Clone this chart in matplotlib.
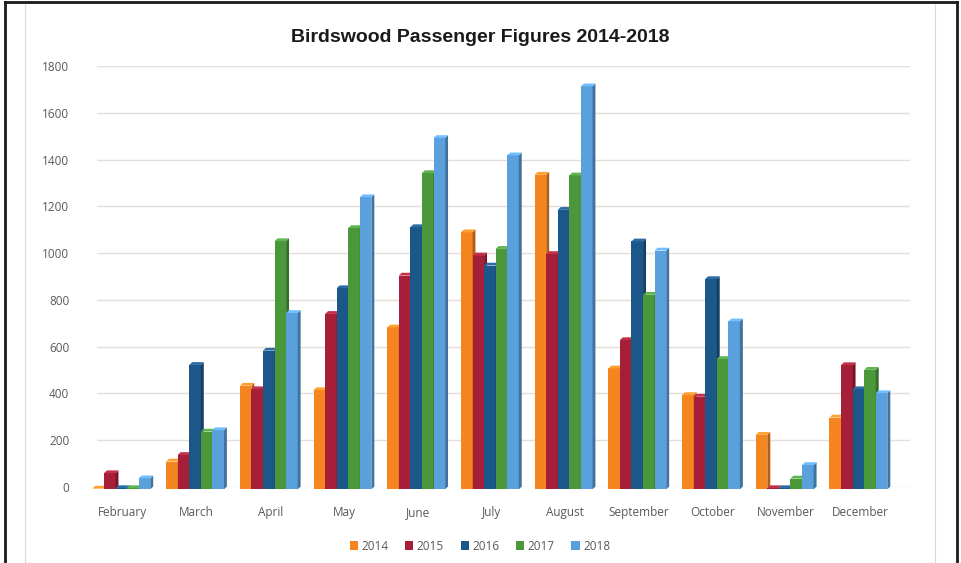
import matplotlib
matplotlib.use("Agg")
import matplotlib.pyplot as plt
from matplotlib.patches import Polygon, Rectangle
from matplotlib.lines import Line2D
import matplotlib.colors as mcolors
import numpy as np

months = ["February", "March", "April", "May", "June", "July", "August",
          "September", "October", "November", "December"]
years = ["2014", "2015", "2016", "2017", "2018"]
v2014 = [3, 119, 443, 424, 692, 1099, 1345, 517, 403, 233, 307]
v2015 = [69, 147, 428, 750, 914, 1000, 1006, 638, 396, 5, 531]
v2016 = [5, 532, 593, 860, 1121, 957, 1195, 1060, 899, 5, 428]
v2017 = [5, 247, 1061, 1117, 1352, 1028, 1342, 832, 557, 46, 511]
v2018 = [47, 253, 754, 1249, 1502, 1428, 1723, 1021, 718, 104, 411]
series = [v2014, v2015, v2016, v2017, v2018]
colors = ["#F5861F", "#A61E38", "#1C578A", "#4A983A", "#5AA0DC"]
yticks = [0, 200, 400, 600, 800, 1000, 1200, 1400, 1600, 1800]

fig = plt.figure(figsize=(9.62, 5.63), dpi=100)
fig.patch.set_facecolor("white")

# outer frame
fig.add_artist(Line2D([5/962, 5/962], [0, 1 - 2/563], color="#1a1a1a", lw=2, transform=fig.transFigure))
fig.add_artist(Line2D([957/962, 957/962], [0, 1 - 2/563], color="#1a1a1a", lw=2, transform=fig.transFigure))
fig.add_artist(Line2D([5/962, 957/962], [1 - 2/563, 1 - 2/563], color="#1a1a1a", lw=2, transform=fig.transFigure))
fig.add_artist(Line2D([25/962, 25/962], [0, 1 - 4/563], color="#d9d9d9", lw=0.8, transform=fig.transFigure))
fig.add_artist(Line2D([935/962, 935/962], [0, 1 - 4/563], color="#d9d9d9", lw=0.8, transform=fig.transFigure))

ax = fig.add_axes([97/962, 76/563, 813/962, 421/563])
ax.set_xlim(-0.35, 10.68)
ax.set_ylim(0, 1800)
for s in ax.spines.values():
    s.set_visible(False)
ax.set_yticks(yticks)
ax.yaxis.grid(True, color="#e6dedb", lw=1.0)
ax.set_axisbelow(True)
ax.tick_params(axis="both", length=0, colors="#595959")
ax.set_yticklabels([str(t) for t in yticks], fontsize=8.5, family=["Open Sans", "DejaVu Sans"], color="#595959")
ax.tick_params(axis="y", pad=20)
x = np.arange(len(months))
ax.set_xticks(x)
ax.set_xticklabels(months, fontsize=8.5, family=["Open Sans", "DejaVu Sans"], color="#595959")
ax.tick_params(axis="x", pad=14)

w = 0.157
dx = 0.04
dy = 12
for i, (vals, c) in enumerate(zip(series, colors)):
    rgb = np.array(mcolors.to_rgb(c))
    dark = tuple(rgb * 0.72)
    light = tuple(np.clip(rgb * 1.1 + 0.05, 0, 1))
    xs = x + (i - 2) * w - w / 2 - 0.02
    ax.bar(xs, vals, width=w, align="edge", color=c, lw=0, zorder=3, bottom=-10)
    for x0, v in zip(xs, vals):
        top = v - 10
        ax.add_patch(Polygon([(x0 + w, -10), (x0 + w + dx, -10 + dy), (x0 + w + dx, top + dy), (x0 + w, top)],
                             closed=True, facecolor=dark, lw=0, zorder=3))
        ax.add_patch(Polygon([(x0, top), (x0 + dx, top + dy), (x0 + w + dx, top + dy), (x0 + w, top)],
                             closed=True, facecolor=light, lw=0, zorder=3))
ax.set_ylim(0, 1800)
for p in ax.patches:
    p.set_clip_on(False)

fig.text(480/962, 1 - 37/563, "Birdswood Passenger Figures 2014-2018", ha="center", va="center",
         fontsize=14, fontweight="bold", family=["Liberation Sans", "DejaVu Sans"], color="#1a1a1a")

handles = [Rectangle((0, 0), 1, 1, facecolor=c, lw=0) for c in colors]
leg = fig.legend(handles, years, loc="center", bbox_to_anchor=(480/962, 1 - 546/563), ncol=5,
                 frameon=False, handlelength=0.7, handleheight=0.7, handletextpad=0.3,
                 columnspacing=1.4, prop={"family": ["Open Sans", "DejaVu Sans"], "size": 8.5})
for t in leg.get_texts():
    t.set_color("#595959")

fig.savefig("out.png", dpi=100, facecolor="white")
